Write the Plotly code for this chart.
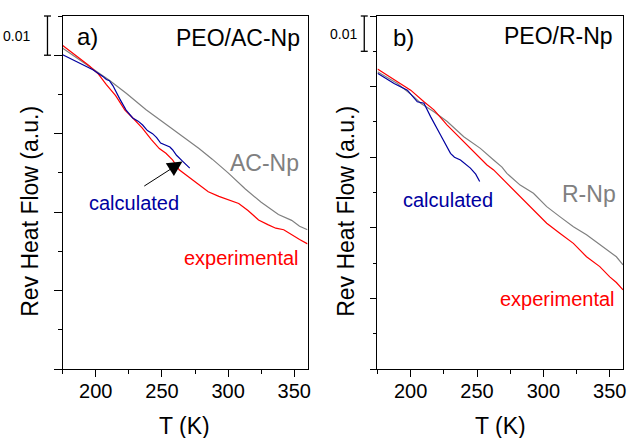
import plotly.graph_objects as go

# ---------------- data ----------------
# Panel a) PEO/AC-Np
a_exp_T = [175, 185, 195, 202, 208, 215, 222, 228, 235, 242, 248, 253, 258, 263, 270, 278, 285, 293, 300, 308, 315, 323, 330, 336, 342, 348, 354, 360]
a_exp_y = [0.0825, 0.0800, 0.0773, 0.0752, 0.0725, 0.0697, 0.0660, 0.0640, 0.0615, 0.0585, 0.0562, 0.0550, 0.0533, 0.0508, 0.0490, 0.0468, 0.0452, 0.0440, 0.0432, 0.0422, 0.0404, 0.0380, 0.0368, 0.0359, 0.0355, 0.0342, 0.0330, 0.0319]

a_np_T = [175, 185, 197.8, 210, 223, 238, 253, 263, 270, 278, 288, 300, 313, 325, 338, 348, 354, 360]
a_np_y = [0.0818, 0.0795, 0.0767, 0.0737, 0.0703, 0.0661, 0.0624, 0.0600, 0.0582, 0.0562, 0.0535, 0.0500, 0.0459, 0.0425, 0.0394, 0.0379, 0.0364, 0.0355]

a_calc_T = [175, 187.8, 197.8, 205.3, 208, 210.3, 213, 217.9, 222.9, 227.9, 232, 235.4, 239, 242.9, 246, 249, 253, 256, 258, 261, 265.5, 271]
a_calc_y = [0.0801, 0.0780, 0.0763, 0.0746, 0.0738, 0.0735, 0.0722, 0.0690, 0.0660, 0.0640, 0.0632, 0.0622, 0.0608, 0.0600, 0.0590, 0.0576, 0.0571, 0.0566, 0.0559, 0.0545, 0.0530, 0.0512]

# Panel b) PEO/R-Np
b_exp_T = [175, 190, 200, 210, 217.5, 227.5, 237.5, 247.5, 257.5, 262.5, 268.8, 272.5, 282.5, 292.5, 302.5, 312.6, 322.6, 332.5, 342.5, 350, 355, 360]
b_exp_y = [0.0850, 0.0814, 0.0790, 0.0757, 0.0734, 0.0691, 0.0654, 0.0616, 0.0578, 0.0564, 0.0540, 0.0526, 0.0488, 0.0450, 0.0413, 0.0384, 0.0356, 0.0318, 0.0290, 0.0261, 0.0245, 0.0224]

b_np_T = [175, 190, 202.5, 207.5, 217.5, 227.5, 240, 252.5, 262.5, 268.8, 272.5, 282.5, 292.5, 302.5, 312.6, 322.6, 332.5, 345, 355, 360]
b_np_y = [0.0842, 0.0809, 0.0771, 0.0753, 0.0729, 0.0701, 0.0658, 0.0625, 0.0592, 0.0572, 0.0554, 0.0521, 0.0498, 0.0460, 0.0431, 0.0403, 0.0380, 0.0346, 0.0318, 0.0295]

b_calc_T = [175, 187.5, 197.5, 202, 205, 210, 215, 222.5, 230, 233, 237.5, 245, 249, 252]
b_calc_y = [0.0838, 0.0809, 0.0790, 0.0772, 0.0757, 0.0753, 0.0715, 0.0663, 0.0611, 0.0600, 0.0592, 0.0569, 0.0552, 0.0531]

x_range = [175, 360]
a_y_range = [0, 0.09]
b_y_range = [0, 0.10]
x_ticks = [200, 250, 300, 350]
scale_bar = 0.01

# ---------------- styling ----------------
FONT = "Liberation Sans, Arial, sans-serif"
RED = "#ff0000"
GRAY = "#808080"
BLUE = "#0000a0"
W, H = 632, 438

xa_dom = [63 / W, 309 / W]
xb_dom = [379.3 / W, 626 / W]
y_dom = [1 - 369 / H, 1 - 16 / H]

fig = go.Figure()

def add_line(x, y, color, xa, ya):
    fig.add_trace(go.Scatter(x=x, y=y, mode="lines", line=dict(color=color, width=1.2),
                             xaxis=xa, yaxis=ya, showlegend=False, hoverinfo="skip"))

add_line(a_np_T, a_np_y, GRAY, "x", "y")
add_line(a_exp_T, a_exp_y, RED, "x", "y")
add_line(a_calc_T, a_calc_y, BLUE, "x", "y")
add_line(b_np_T, b_np_y, GRAY, "x2", "y2")
add_line(b_exp_T, b_exp_y, RED, "x2", "y2")
add_line(b_calc_T, b_calc_y, BLUE, "x2", "y2")

def xaxis(dom, anchor):
    return dict(domain=dom, range=x_range, anchor=anchor, showline=True, linecolor="black",
                linewidth=1.3, mirror=True, ticks="outside", ticklen=7, tickwidth=1.3,
                tickcolor="black", tickvals=x_ticks, showgrid=False, zeroline=False,
                ticklabelstandoff=-3,
                tickfont=dict(family=FONT, size=20, color="black"),
                minor=dict(dtick=25, tick0=175, ticks="outside", ticklen=4, tickwidth=1.3,
                           tickcolor="black", showgrid=False))

def yaxis(rng, anchor, tl):
    return dict(domain=y_dom, range=rng, anchor=anchor, showline=True, linecolor="black",
                linewidth=1.3, mirror=True, ticks="outside", ticklen=tl, tickwidth=1.3,
                tickcolor="black", dtick=0.02, tick0=0, showticklabels=False, showgrid=False,
                zeroline=False,
                minor=dict(dtick=0.01, tick0=0, ticks="outside", ticklen=3.5, tickwidth=1.3,
                           tickcolor="black", showgrid=False))

fig.update_layout(
    width=W, height=H, margin=dict(l=0, r=0, t=0, b=0),
    paper_bgcolor="white", plot_bgcolor="white",
    xaxis=xaxis(xa_dom, "y"), yaxis=yaxis(a_y_range, "x", 8),
    xaxis2=xaxis(xb_dom, "y2"), yaxis2=yaxis(b_y_range, "x2", 6),
)

def ann(text, x, y, xref, yref, size, color="black", xanchor="left", yanchor="middle", angle=0):
    fig.add_annotation(text=text, x=x, y=y, xref=xref, yref=yref, showarrow=False,
                       font=dict(family=FONT, size=size, color=color),
                       xanchor=xanchor, yanchor=yanchor, textangle=angle)

# panel a labels
ann("a)", 184, 0.0847, "x", "y", 24)
ann("PEO/AC-Np", 356, 0.0844, "x", "y", 23, xanchor="right")
ann("AC-Np", 355, 0.0525, "x", "y", 23, color=GRAY, xanchor="right")
ann("calculated", 193, 0.0422, "x", "y", 20, color=BLUE)
ann("experimental", 265, 0.0282, "x", "y", 20, color=RED)
# panel b labels
ann("b)", 185, 0.0940, "x2", "y2", 24)
ann("PEO/R-Np", 354, 0.0943, "x2", "y2", 23, xanchor="right")
ann("R-Np", 356.5, 0.0495, "x2", "y2", 23, color=GRAY, xanchor="right")
ann("calculated", 193, 0.0480, "x2", "y2", 20, color=BLUE)
ann("experimental", 265.5, 0.0198, "x2", "y2", 20, color=RED)

# axis titles
for xc in (30, 347.5):
    ann("Rev Heat Flow (a.u.)", xc / W, 1 - 211 / H, "paper", "paper", 23,
        xanchor="center", angle=-90)
for xc in (185.5, 503):
    ann("T (K)", xc / W, 1 - 426 / H, "paper", "paper", 23, xanchor="center")

# arrow pointing to calculated curve (panel a)
fig.add_annotation(x=265.5, y=0.0529, ax=235.5, ay=0.0464, xref="x", yref="y", axref="x", ayref="y",
                   showarrow=True, arrowhead=2, arrowsize=3, arrowwidth=1, arrowcolor="black", text="")

# scale bars (0.01 units), positioned through the y-axis mapping
def to_paper(v, rng):
    return y_dom[0] + (v - rng[0]) / (rng[1] - rng[0]) * (y_dom[1] - y_dom[0])

for xpix, rng, top, txt_right in ((47.7, a_y_range, a_y_range[1], 32), (366, b_y_range, b_y_range[1], 361)):
    y1 = to_paper(top, rng)
    y0 = to_paper(top - scale_bar, rng)
    xc = xpix / W
    cap = 3.5 / W
    line = dict(color="black", width=1.3)
    fig.add_shape(type="line", xref="paper", yref="paper", x0=xc, x1=xc, y0=y0, y1=y1, line=line)
    fig.add_shape(type="line", xref="paper", yref="paper", x0=xc - cap, x1=xc + cap, y0=y0, y1=y0, line=line)
    fig.add_shape(type="line", xref="paper", yref="paper", x0=xc - cap, x1=xc + cap, y0=y1, y1=y1, line=line)
    ann("0.01", txt_right / W, (y0 + y1) / 2, "paper", "paper", 14, xanchor="right")

fig.write_html("out.html")
